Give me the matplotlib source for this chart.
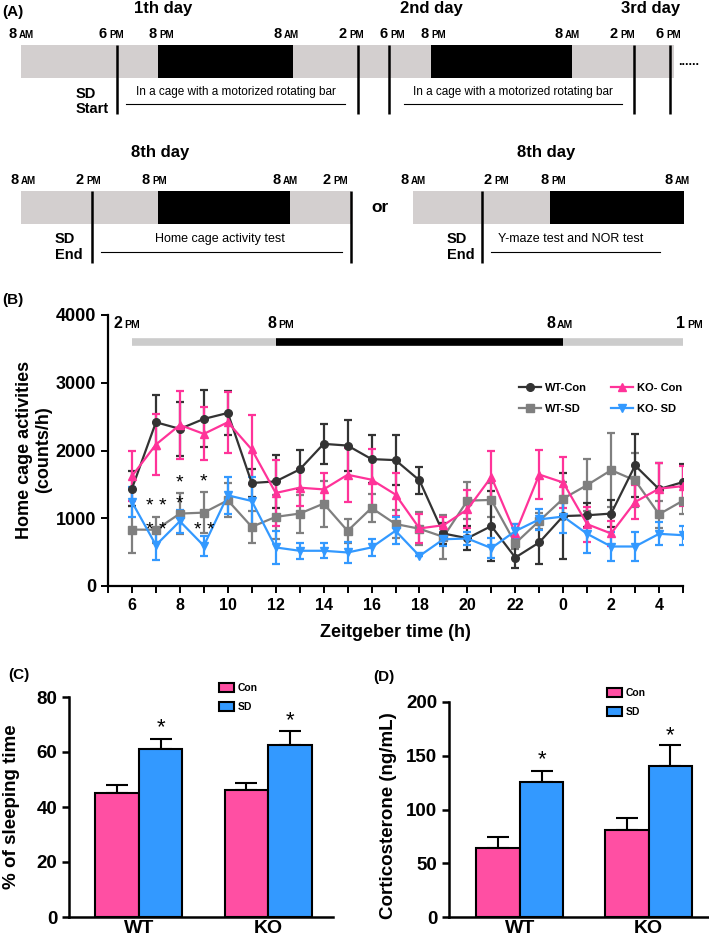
import numpy as np
import matplotlib.pyplot as plt
from matplotlib import font_manager
from matplotlib.patches import Rectangle
from matplotlib.lines import Line2D

names = {f.name for f in font_manager.fontManager.ttflist}
NARROW = 'Liberation Sans Narrow' if 'Liberation Sans Narrow' in names else 'Liberation Sans'
plt.rcParams['font.family'] = ['Liberation Sans', 'DejaVu Sans']
plt.rcParams['font.weight'] = 'bold'

# ---- (B) home cage activity, counts/h, ZT 6 .. ZT 29
zt = list(range(6, 30))
zt_ticks = list(range(6, 29, 2))
zt_labels = ['6', '8', '10', '12', '14', '16', '18', '20', '22', '0', '2', '4']
wt_con = [1437, 2417, 2319, 2466, 2554, 1520, 1544, 1720, 2098, 2073, 1873, 1858,
          1559, 775, 705, 885, 420, 643, 1032, 1044, 1069, 1779, 1430, 1534]
wt_con_err = [260, 400, 400, 420, 330, 200, 390, 290, 300, 380, 350, 370,
              200, 150, 180, 520, 150, 320, 640, 180, 200, 470, 380, 260]
wt_sd = [833, 830, 1069, 1083, 1265, 873, 1020, 1069, 1216, 813, 1152, 915,
         845, 725, 1260, 1270, 630, 960, 1290, 1490, 1710, 1559, 1059, 1260]
wt_sd_err = [350, 190, 300, 300, 250, 240, 320, 280, 340, 180, 200, 200,
             240, 320, 270, 250, 80, 120, 250, 390, 550, 400, 200, 200]
ko_con = [1622, 2088, 2377, 2245, 2417, 2015, 1373, 1451, 1426, 1642, 1569, 1350,
          850, 897, 1130, 1610, 775, 1645, 1527, 912, 775, 1240, 1436, 1475]
ko_con_err = [370, 450, 500, 390, 450, 510, 490, 270, 240, 400, 450, 320,
              220, 120, 280, 380, 140, 360, 380, 260, 190, 250, 380, 290]
ko_sd = [1240, 603, 956, 593, 1338, 1255, 569, 520, 520, 495, 569, 815,
         444, 690, 701, 560, 810, 983, 1025, 770, 583, 583, 770, 750]
ko_sd_err = [220, 220, 170, 150, 270, 350, 240, 120, 110, 150, 120, 200,
             0, 100, 100, 150, 100, 160, 250, 280, 220, 220, 170, 140]
light_phase = [(6, 12, '#cccccc'), (12, 24, 'black'), (24, 29, '#cccccc')]
stars_b = [(7.0, 1170, '* *'), (7.0, 820, '* *'), (8.0, 1520, '*'), (8.0, 1210, '*'),
           (9.0, 1530, '*'), (9.0, 815, '* *')]

# ---- (C) sleeping time, (D) corticosterone
groups = ['WT', 'KO']
sleep_con = [45.0, 46.3]
sleep_con_err = [3.1, 2.5]
sleep_sd = [61.2, 62.7]
sleep_sd_err = [3.6, 4.9]
cort_con = [64.4, 80.9]
cort_con_err = [9.7, 11.5]
cort_sd = [125.3, 140.3]
cort_sd_err = [10.6, 19.9]

PINK = '#ff4fa3'
BLUE = '#3399ff'
LGRAY = '#d3cfcf'

fig = plt.figure(figsize=(7.09, 9.40), dpi=100)

# pixel-coordinate layer for schematic (A) and free text
pa = fig.add_axes([0, 0, 1, 1])
pa.set_xlim(0, 709)
pa.set_ylim(940, 0)
pa.axis('off')


def ampm(x, y, num, ap, fs1=10.5, fs2=7):
    pa.text(x, y, num, ha='right', va='baseline', fontsize=fs1, fontweight='bold', family=NARROW)
    pa.text(x + 2, y, ap, ha='left', va='baseline', fontsize=fs2, fontweight='bold', family=NARROW)


def vline(x, y0, y1):
    pa.plot([x, x], [y0, y1], color='black', lw=1.8, solid_capstyle='butt')


# (A) top row
pa.text(2, 12, '(A)', fontsize=11, fontweight='bold', va='center', ha='left')
for cx, t in [(163, '1th day'), (431, '2nd day'), (651, '3rd day')]:
    pa.text(cx, 9, t, fontsize=12, fontweight='bold', ha='center', va='center', family=NARROW)
pa.add_patch(Rectangle((21, 45), 653, 33, color=LGRAY, lw=0))
pa.add_patch(Rectangle((158, 45), 135, 33, color='black', lw=0))
pa.add_patch(Rectangle((431, 45), 141, 33, color='black', lw=0))
for g, n, a in [(17, '8', 'AM'), (107, '6', 'PM'), (157, '8', 'PM'), (282, '8', 'AM'),
                (347, '2', 'PM'), (388, '6', 'PM'), (429, '8', 'PM'), (563, '8', 'AM'),
                (618, '2', 'PM'), (664, '6', 'PM')]:
    ampm(g, 38, n, a)
for x in [117, 358, 389, 634, 670]:
    vline(x, 45, 114)
pa.text(678, 62, '......', fontsize=9, fontweight='bold', va='center', ha='left')
pa.text(76, 94, 'SD', fontsize=10.5, fontweight='bold', va='center', ha='left', family=NARROW)
pa.text(76, 109, 'Start', fontsize=10.5, fontweight='bold', va='center', ha='left', family=NARROW)
for x0, x1 in [(126, 345), (404, 622)]:
    pa.text((x0 + x1) / 2, 92, 'In a cage with a motorized rotating bar', fontsize=8.5,
            fontweight='normal', ha='center', va='center', family=NARROW)
    pa.plot([x0, x1], [104, 104], color='black', lw=0.8)

# (A) bottom row
for cx in [160, 546]:
    pa.text(cx, 153, '8th day', fontsize=12, fontweight='bold', ha='center', va='center', family=NARROW)
pa.add_patch(Rectangle((21, 191), 330, 33, color=LGRAY, lw=0))
pa.add_patch(Rectangle((158, 191), 132, 33, color='black', lw=0))
pa.add_patch(Rectangle((413, 191), 271, 33, color=LGRAY, lw=0))
pa.add_patch(Rectangle((550, 191), 134, 33, color='black', lw=0))
for g, n, a in [(19, '8', 'AM'), (84, '2', 'PM'), (150, '8', 'PM'), (281, '8', 'AM'),
                (331, '2', 'PM'), (409, '8', 'AM'), (492, '2', 'PM'), (549, '8', 'PM'),
                (673, '8', 'AM')]:
    ampm(g, 184, n, a)
for x in [92, 351, 482]:
    vline(x, 191, 263)
pa.text(380, 208, 'or', fontsize=12.5, fontweight='bold', ha='center', va='center', family=NARROW)
for x in [55, 447]:
    pa.text(x, 239, 'SD', fontsize=10.5, fontweight='bold', va='center', ha='left', family=NARROW)
    pa.text(x, 255, 'End', fontsize=10.5, fontweight='bold', va='center', ha='left', family=NARROW)
pa.text(220, 239, 'Home cage activity test', fontsize=9, fontweight='normal',
        ha='center', va='center', family=NARROW)
pa.plot([101, 342], [252, 252], color='black', lw=0.8)
pa.text(571, 239, 'Y-maze test and NOR test', fontsize=9, fontweight='normal',
        ha='center', va='center', family=NARROW)
pa.plot([491, 660], [252, 252], color='black', lw=0.8)

# (B)
pa.text(2, 300, '(B)', fontsize=11, fontweight='bold', va='center', ha='left')
for g, n, a in [(122, '2', 'PM'), (276, '8', 'PM'), (555, '8', 'AM'), (685, '1', 'PM')]:
    ampm(g, 328, n, a, fs1=11.5, fs2=7.5)
pa.text(34, 450, 'Home cage activities\n(counts/h)', rotation=90, ha='center', va='center',
        fontsize=13, fontweight='bold', linespacing=1.1)

axb = fig.add_axes([108 / 709, 1 - 586 / 940, (683 - 108) / 709, (586 - 315) / 940])
for x0, x1, c in light_phase:
    axb.plot([x0, x1], [3600, 3600], color=c, lw=5.5, solid_capstyle='butt')
series = [
    (wt_sd, wt_sd_err, 's', '#7f7f7f', 'WT-SD'),
    (wt_con, wt_con_err, 'o', '#333333', 'WT-Con'),
    (ko_con, ko_con_err, '^', '#ff3399', 'KO- Con'),
    (ko_sd, ko_sd_err, 'v', BLUE, 'KO- SD'),
]
handles = {}
for vals, err, m, c, lab in series:
    axb.errorbar(zt, vals, yerr=err, fmt='-' + m, color=c, ms=5.5, lw=1.6,
                 elinewidth=1.6, capsize=3, capthick=1.6)
    handles[lab] = Line2D([], [], color=c, marker=m, ms=5.5, lw=1.6)
for x, y, s in stars_b:
    axb.text(x, y, s, ha='center', va='center', fontsize=14, fontweight='normal')
axb.set_xlim(5, 29)
axb.set_ylim(0, 4000)
axb.set_yticks([0, 1000, 2000, 3000, 4000])
axb.set_xticks(range(5, 30))
axb.set_xticklabels([''] * 25)
for x, lab in zip(zt_ticks, zt_labels):
    axb.text(x, -170, lab, ha='center', va='top', fontsize=11.5, fontweight='bold', family=NARROW)
axb.text(17, -560, 'Zeitgeber time (h)', ha='center', va='top', fontsize=13,
         fontweight='bold', family=NARROW)
for s in ['top', 'right']:
    axb.spines[s].set_visible(False)
for s in ['left', 'bottom']:
    axb.spines[s].set_linewidth(1.6)
axb.tick_params(axis='both', direction='out', length=5, width=1.4, labelsize=13)
axb.patch.set_alpha(0)
order = ['WT-Con', 'WT-SD', 'KO- Con', 'KO- SD']
axb.legend([handles[k] for k in order], order, ncol=2, frameon=False, fontsize=8,
           loc='upper left', bbox_to_anchor=(519 / 709, 1 - 383 / 940),
           bbox_transform=fig.transFigure, borderaxespad=0, borderpad=0,
           handlelength=2.0, handletextpad=0.3, columnspacing=2.2, labelspacing=1.0)

# (C) and (D)
pa.text(8, 675, '(C)', fontsize=11, fontweight='bold', va='center', ha='left')
pa.text(373, 677, '(D)', fontsize=11, fontweight='bold', va='center', ha='left')


def bar_panel(rect, con, con_err, sd, sd_err, xlim, ylim, yticks, ylabel, star_y, leg_xy):
    ax = fig.add_axes(rect)
    x = np.arange(len(groups))
    w = 0.337
    bc = ax.bar(x - w / 2, con, w, color=PINK, edgecolor='black', lw=1.5, zorder=3)
    bs = ax.bar(x + w / 2, sd, w, color=BLUE, edgecolor='black', lw=1.5, zorder=3)
    ax.errorbar(x - w / 2, con, yerr=[np.zeros(len(con)), con_err], fmt='none', ecolor='black',
                elinewidth=1.5, capsize=8, capthick=1.5, zorder=2)
    ax.errorbar(x + w / 2, sd, yerr=[np.zeros(len(sd)), sd_err], fmt='none', ecolor='black',
                elinewidth=1.5, capsize=8, capthick=1.5, zorder=2)
    for xi, yi in zip(x + w / 2, star_y):
        ax.text(xi, yi, '*', ha='center', va='center', fontsize=16, fontweight='normal')
    ax.set_xlim(*xlim)
    ax.set_ylim(*ylim)
    ax.set_yticks(yticks)
    ax.set_xticks(x)
    ax.set_xticklabels(groups)
    for s in ['top', 'right']:
        ax.spines[s].set_visible(False)
    for s in ['left', 'bottom']:
        ax.spines[s].set_linewidth(1.8)
    ax.tick_params(axis='y', direction='out', length=5, width=1.8, labelsize=13.5)
    ax.tick_params(axis='x', length=0, labelsize=14, pad=2)
    ax.set_ylabel(ylabel, fontsize=13.5, fontweight='bold')
    ax.patch.set_alpha(0)
    ax.legend([bc, bs], ['Con', 'SD'], frameon=False, fontsize=7.5, loc='upper left',
              bbox_to_anchor=leg_xy, bbox_transform=fig.transFigure, borderaxespad=0,
              borderpad=0, handlelength=1.4, handleheight=0.9, handletextpad=0.4,
              labelspacing=0.9)
    return ax


axc = bar_panel([69 / 709, 1 - 917 / 940, (333 - 69) / 709, (917 - 697) / 940],
                sleep_con, sleep_con_err, sleep_sd, sleep_sd_err,
                (-0.54, 1.5), (0, 80), [0, 20, 40, 60, 80], '% of sleeping time',
                [69, 71.5], (219 / 709, 1 - 683 / 940))
axc.yaxis.set_label_coords(-0.185, 0.5)
axd = bar_panel([449 / 709, 1 - 917 / 940, (708 - 449) / 709, (917 - 702) / 940],
                cort_con, cort_con_err, cort_sd, cort_sd_err,
                (-0.55, 1.46), (0, 200), [0, 50, 100, 150, 200], 'Corticosterone (ng/mL)',
                [146, 168.6], (607 / 709, 1 - 688 / 940))
axd.yaxis.set_label_coords(-0.2, 0.47)

fig.savefig('out.png', dpi=100)
